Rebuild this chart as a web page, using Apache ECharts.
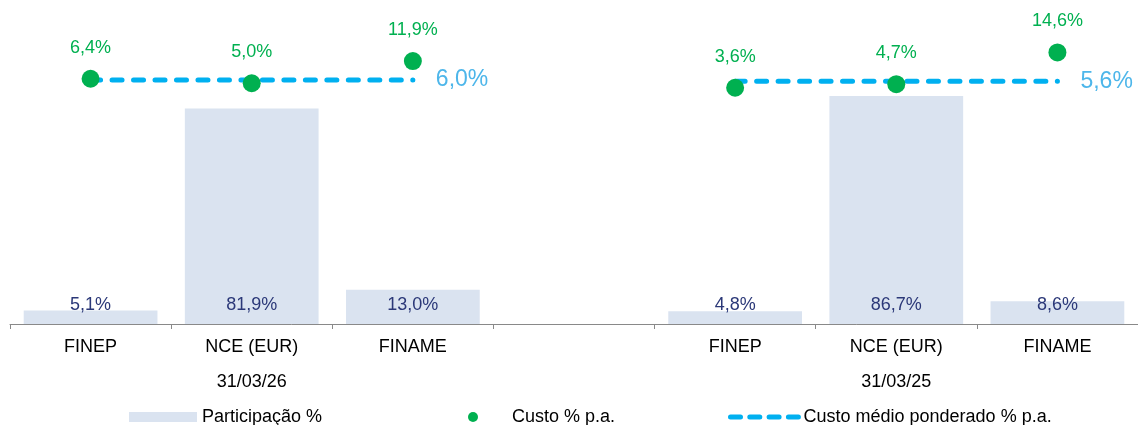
<!DOCTYPE html>
<html>
<head>
<meta charset="utf-8">
<script src="https://cdn.jsdelivr.net/npm/echarts@6/dist/echarts.min.js"></script>
<style>
html,body{margin:0;padding:0;background:#fff;}
#c{width:1138px;height:425px;}
</style>
</head>
<body>
<div id="c"></div>
<script>
const categories = ['FINEP', 'NCE (EUR)', 'FINAME', '', 'FINEP', 'NCE (EUR)', 'FINAME'];
const groupLabels = ['', '31/03/26', '', '', '', '31/03/25', ''];
const participacao = [5.1, 81.9, 13.0, null, 4.8, 86.7, 8.6];
const custo = [6.4, 5.0, 11.9, null, 3.6, 4.7, 14.6];
const custoMedio2026 = [6.0, 6.0, 6.0];
const custoMedio2025 = [null, null, null, null, 5.6, 5.6, 5.6];
const legendNames = ['Participação %', 'Custo % p.a.', 'Custo médio ponderado % p.a.'];

const FONT = '"Liberation Sans", Arial, sans-serif';
const fmt = v => (v == null ? '' : v.toFixed(1).replace('.', ',') + '%');
const fmtParam = p => fmt(Array.isArray(p.value) ? p.value[1] : p.value);

const chart = echarts.init(document.getElementById('c'), null, {renderer: 'canvas'});

const DASH = [10, 11.48];

const lineBase = {
  type: 'line',
  name: legendNames[2],
  yAxisIndex: 1,
  symbol: 'none',
  connectNulls: false,
  silent: true,
  z: 3,
  itemStyle: {color: '#00B0F0'},
  lineStyle: {color: '#00B0F0', width: 5, type: DASH, cap: 'round'},
  endLabel: {
    show: true,
    distance: 23,
    color: '#4DB6EA',
    fontSize: 23,
    fontFamily: FONT,
    formatter: fmtParam
  }
};

chart.setOption({
  animation: false,
  textStyle: {fontFamily: FONT},
  grid: {left: 10, right: 0, top: 3, bottom: 101, containLabel: false},
  legend: [
    {
      data: [legendNames[0]], left: 129, top: 408, padding: 0,
      icon: 'rect', itemWidth: 68, itemHeight: 10,
      textStyle: {fontSize: 18, color: '#000', fontFamily: FONT}
    },
    {
      data: [legendNames[1]], left: 468, top: 408, padding: 0,
      icon: 'circle', itemWidth: 68, itemHeight: 10,
      textStyle: {fontSize: 18, color: '#000', fontFamily: FONT}
    },
    {
      data: [legendNames[2]], left: 728, top: 408, padding: 0,
      itemWidth: 68, itemHeight: 10,
      itemStyle: {opacity: 0},
      lineStyle: {width: 5, type: [10, 9.3], cap: 'round', color: '#00B0F0', opacity: 1},
      textStyle: {fontSize: 18, color: '#000', fontFamily: FONT}
    }
  ],
  xAxis: [
    {
      type: 'category',
      data: categories,
      position: 'bottom',
      axisLine: {show: true, lineStyle: {color: '#898989', width: 1}},
      axisTick: {show: true, interval: 0, length: 5, lineStyle: {color: '#898989'}},
      axisLabel: {interval: 0, margin: 14, fontSize: 18, color: '#000', fontFamily: FONT},
      splitLine: {show: false}
    },
    {
      type: 'category',
      data: groupLabels,
      position: 'bottom',
      axisLine: {show: false},
      axisTick: {show: false},
      axisLabel: {interval: 0, margin: 49, fontSize: 18, color: '#000', fontFamily: FONT},
      splitLine: {show: false}
    }
  ],
  yAxis: [
    {type: 'value', min: 0, max: 122, show: false, splitLine: {show: false}},
    {type: 'value', min: -70, max: 30, show: false, splitLine: {show: false}}
  ],
  series: [
    {
      type: 'bar',
      name: legendNames[0],
      data: participacao,
      barWidth: '83%',
      silent: true,
      itemStyle: {color: '#DAE3F0'},
      label: {
        show: true,
        position: 'insideBottom',
        distance: 10,
        fontSize: 18,
        color: '#2B3878',
        fontFamily: FONT,
        formatter: fmtParam
      },
      z: 1
    },
    Object.assign({}, lineBase, {data: custoMedio2026}),
    Object.assign({}, lineBase, {data: custoMedio2025}),
    {
      type: 'scatter',
      name: legendNames[1],
      yAxisIndex: 1,
      data: custo,
      symbol: 'circle',
      symbolSize: 18,
      silent: true,
      z: 4,
      itemStyle: {color: '#00B050', opacity: 1},
      label: {
        show: true,
        position: 'top',
        distance: 13,
        fontSize: 18,
        color: '#00B050',
        fontFamily: FONT,
        formatter: fmtParam
      }
    }
  ]
});
</script>
</body>
</html>
